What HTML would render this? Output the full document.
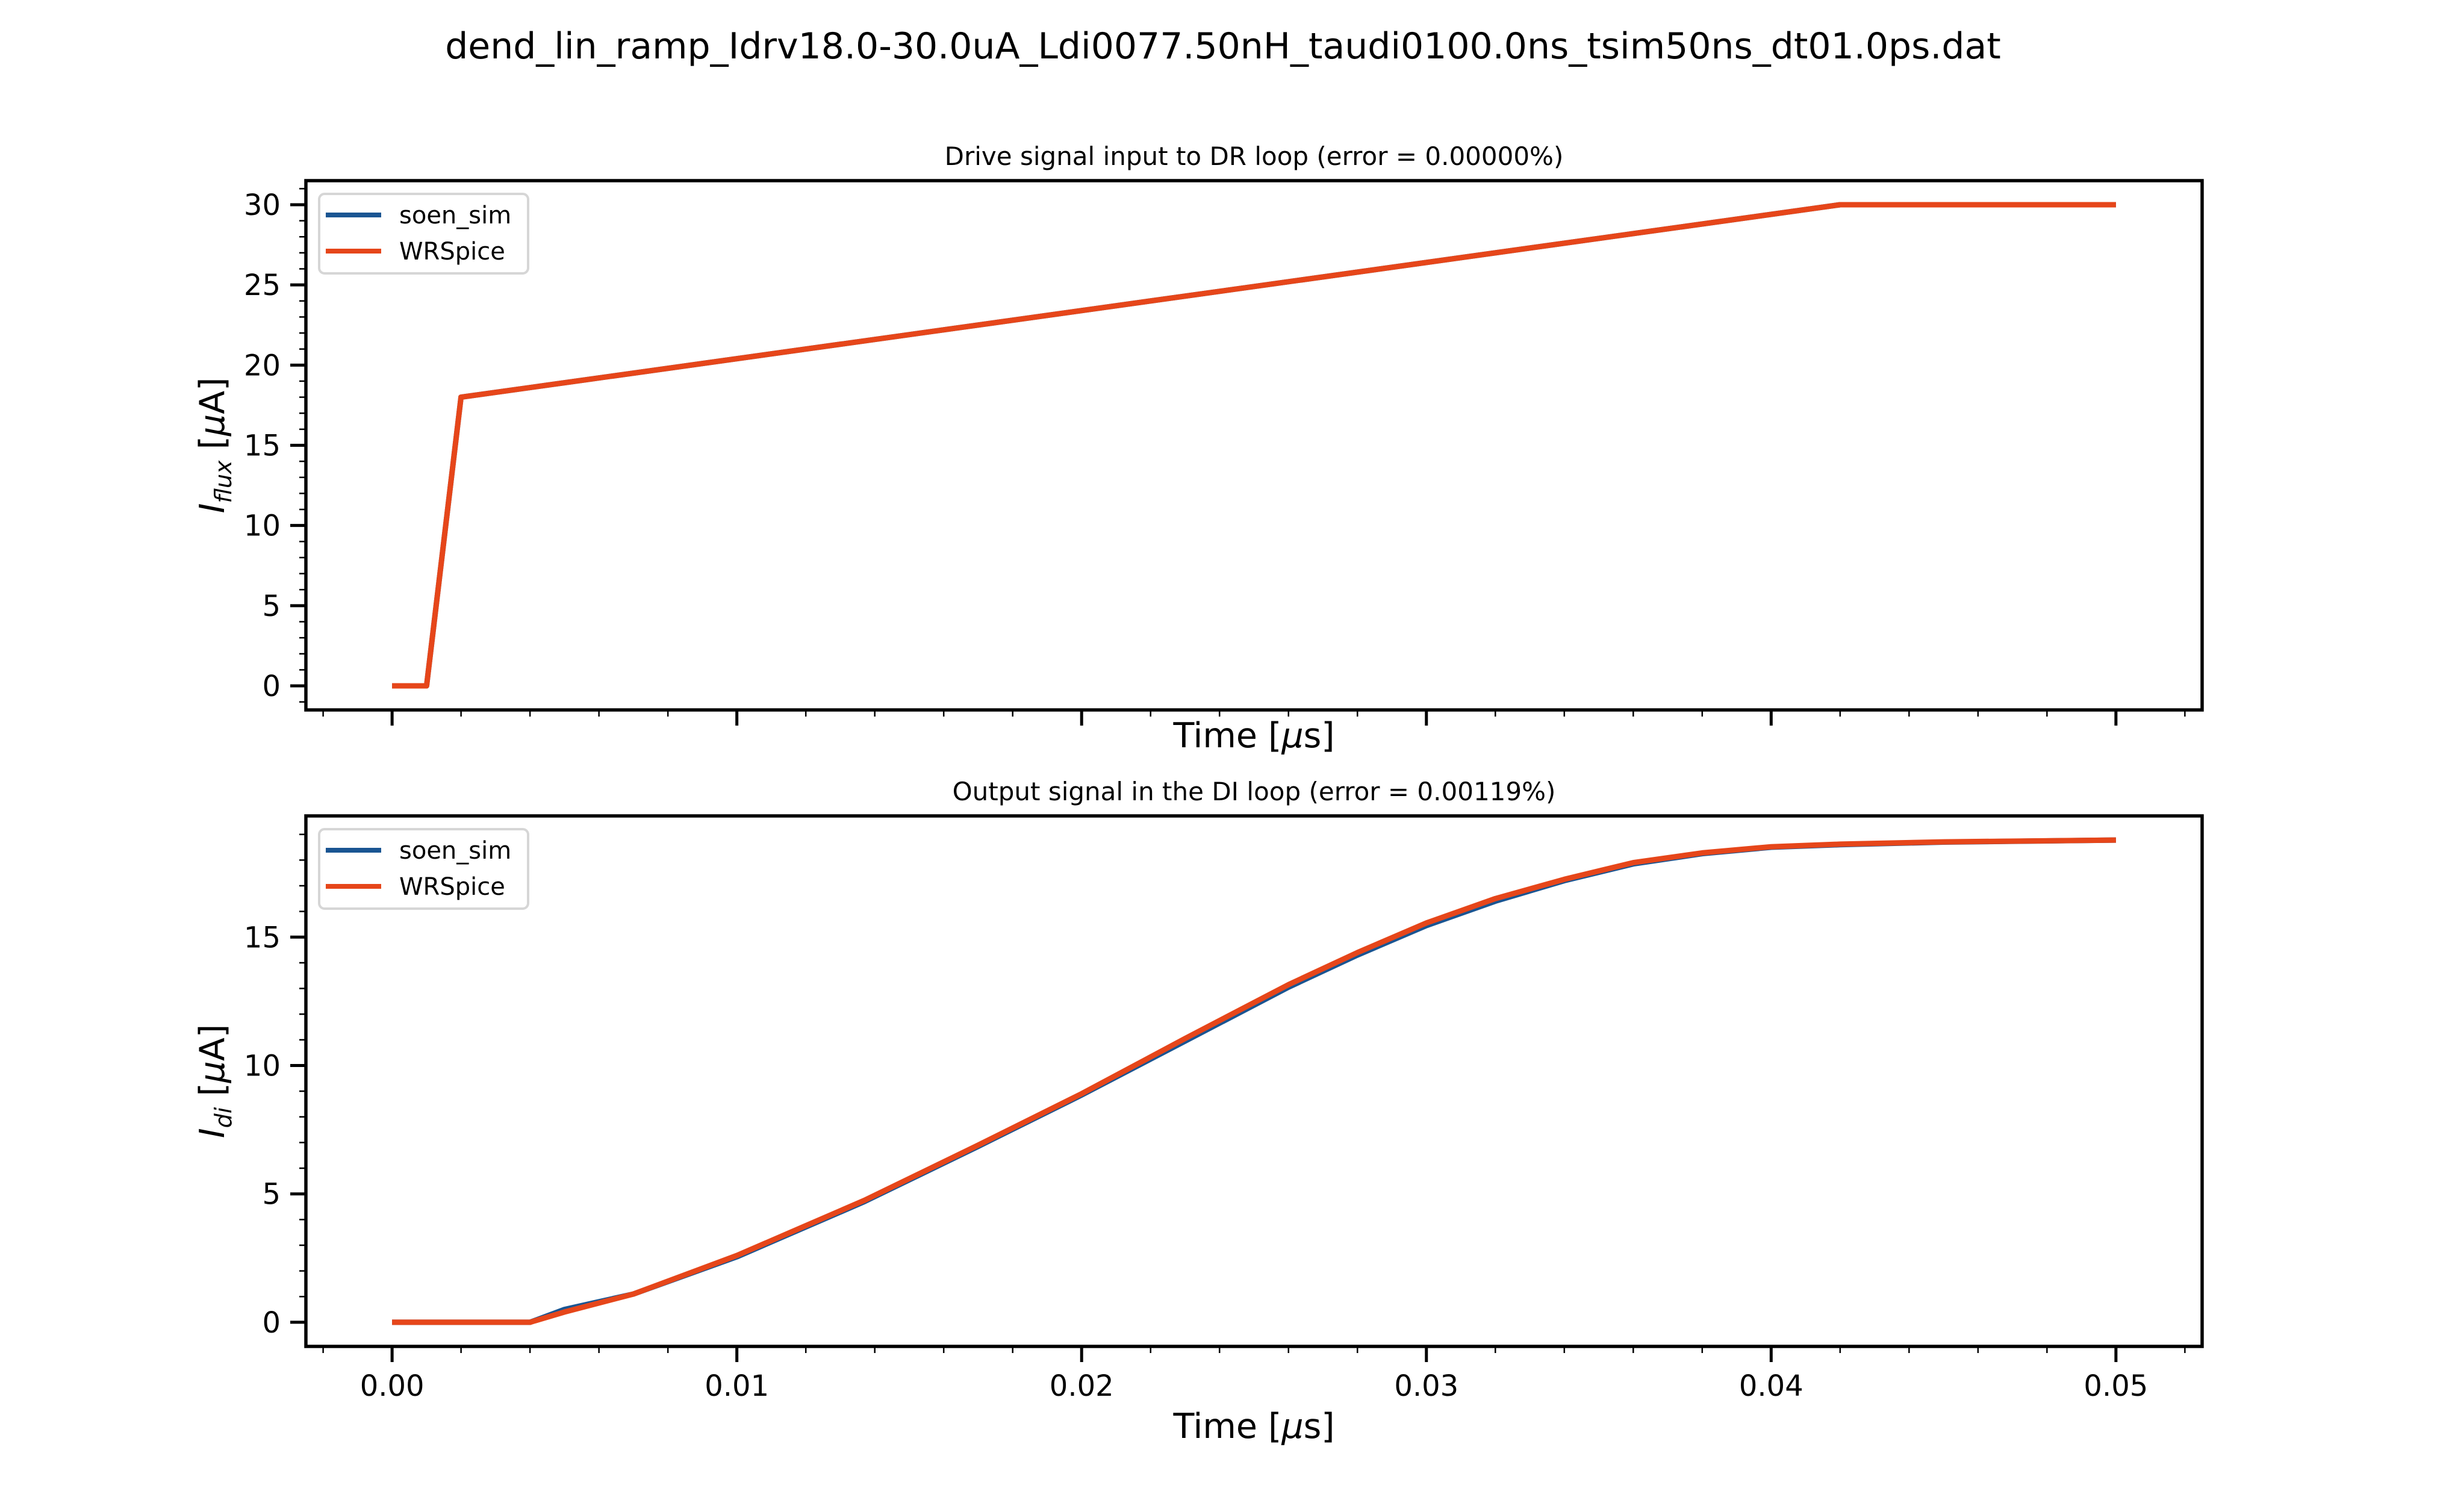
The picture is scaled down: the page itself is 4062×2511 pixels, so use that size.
<!DOCTYPE html>
<html><head><meta charset="utf-8"><style>
html,body{margin:0;padding:0;background:#fff;}
svg{display:block;font-family:"DejaVu Sans","Liberation Sans",sans-serif;}
</style></head><body>
<svg id="fig" xmlns="http://www.w3.org/2000/svg" width="4062" height="2511" viewBox="0 0 4062 2511">
<rect width="4062" height="2511" fill="#fff"/>
<text x="2031" y="97" font-size="60" text-anchor="middle">dend_lin_ramp_Idrv18.0-30.0uA_Ldi0077.50nH_taudi0100.0ns_tsim50ns_dt01.0ps.dat</text>
</svg>
<script>
// top panel data
const driveT = [0, 0.001, 0.002, 0.042, 0.05];
const driveSoen = [0, 0, 18, 30, 30];
const driveWR = [0, 0, 18, 30, 30];
// bottom panel data
const diT = [0, 0.004, 0.005, 0.007, 0.010, 0.0137, 0.017, 0.020, 0.023, 0.026, 0.028, 0.030, 0.032, 0.034, 0.036, 0.038, 0.040, 0.042, 0.045, 0.050];
const diSoen = [0, 0, 0.5, 1.1, 2.55, 4.7, 6.85, 8.85, 10.95, 13.05, 14.3, 15.45, 16.4, 17.2, 17.85, 18.25, 18.5, 18.6, 18.7, 18.78];
const diWR = [0, 0, 0.4, 1.1, 2.6, 4.75, 6.9, 8.9, 11.05, 13.15, 14.4, 15.55, 16.5, 17.25, 17.9, 18.28, 18.52, 18.62, 18.71, 18.78];
const xTicks = [0, 0.01, 0.02, 0.03, 0.04, 0.05];
const xTickLabels = ["0.00", "0.01", "0.02", "0.03", "0.04", "0.05"];
const topYTicks = [0, 5, 10, 15, 20, 25, 30];
const botYTicks = [0, 5, 10, 15];

const NS = "http://www.w3.org/2000/svg";
const svg = document.getElementById('fig');
function mk(tag, attrs, parent){const e=document.createElementNS(NS,tag);for(const k in attrs)e.setAttribute(k,attrs[k]);(parent||svg).appendChild(e);return e;}

function panel(cfg){
  const L=508,R=3657,T=cfg.top,B=cfg.bottom;
  const xs=v=>L+(v-(-0.0025))/(0.055)*(R-L);
  const ys=v=>B-(v-cfg.ymin)/(cfg.ymax-cfg.ymin)*(B-T);
  const g=mk('g',{});
  
  
  const st=mk('text',{x:(L+R)/2,y:T-26,'font-size':42,'text-anchor':'middle'},g);
  st.textContent=cfg.title;
  
  
  for(let i=-1;i<=26;i++){const v=i*0.002;const x=xs(v);if(x<L-1||x>R+1)continue;
    const t=mk('line',{x1:x,x2:x,y1:B,y2:B+11,stroke:'#000','stroke-width':2.5},g);
    
    }
  xTicks.forEach((v,i)=>{const x=xs(v);
    const t=mk('line',{x1:x,x2:x,y1:B,y2:B+26,stroke:'#000','stroke-width':5},g);
    
    
    if(cfg.xlabels){const tx=mk('text',{x:x,y:B+82,'font-size':48,'text-anchor':'middle'},g);tx.textContent=xTickLabels[i];
      
      }
  });
  for(let v=Math.ceil(cfg.ymin);v<=cfg.ymax;v++){const y=ys(v);
    const t=mk('line',{x1:L-11,x2:L,y1:y,y2:y,stroke:'#000','stroke-width':2.5},g);
    
    }
  cfg.yticks.forEach(v=>{const y=ys(v);
    const t=mk('line',{x1:L-26,x2:L,y1:y,y2:y,stroke:'#000','stroke-width':5},g);
    
    
    const tx=mk('text',{x:L-42,y:y+17,'font-size':48,'text-anchor':'end'},g);tx.textContent=v;
    
    
  });
  const xl=mk('text',{x:(L+R)/2,y:B+cfg.xlabelOff,'font-size':57,'text-anchor':'middle'},g);
  xl.innerHTML='Time [<tspan font-style="italic">μ</tspan>s]';
  
  
  const yl=mk('text',{transform:`translate(372,${(T+B)/2}) rotate(-90)`,'font-size':57,'text-anchor':'middle'},g);
  yl.innerHTML='<tspan font-style="italic">I</tspan><tspan font-style="italic" font-size="38" dy="12">'+cfg.sub+'</tspan><tspan dy="-12"> [</tspan><tspan font-style="italic">μ</tspan>A]';
  
  
  const pts=(X,Y)=>X.map((v,i)=>xs(v).toFixed(1)+','+ys(Y[i]).toFixed(1)).join(' ');
  const s1=mk('polyline',{points:pts(cfg.t,cfg.a),fill:'none',stroke:'#1a5592','stroke-width':9,'stroke-linejoin':'round'},g);
  
  
  const s2=mk('polyline',{points:pts(cfg.t,cfg.b),fill:'none',stroke:'#e6461a','stroke-width':9,'stroke-linejoin':'round'},g);
  
  
  const fr=mk('rect',{x:L,y:T,width:R-L,height:B-T,fill:'none',stroke:'#000','stroke-width':5.5},g);
  
  
  const lg=mk('g',{},g);
  
  
  const o=T+22;
  mk('rect',{x:530,y:o,width:347,height:132,rx:9,fill:'#fff',stroke:'#d6d6d6','stroke-width':4},lg);
  [['soen_sim','#1a5592',o+35],['WRSpice','#e6461a',o+95]].forEach(([n,c,y])=>{
    const e=mk('g',{},lg);
    
    
    mk('line',{x1:541,x2:633,y1:y,y2:y,stroke:c,'stroke-width':8},e);
    const t=mk('text',{x:663,y:y+14,'font-size':40},e);t.textContent=n;
  });
}
panel({name:'drive-panel',title:'Drive signal input to DR loop (error = 0.00000%)',top:300,bottom:1179,ymin:-1.5,ymax:31.5,yticks:topYTicks,xlabels:false,xlabelOff:62,sub:'flux',t:driveT,a:driveSoen,b:driveWR});
panel({name:'output-panel',title:'Output signal in the DI loop (error = 0.00119%)',top:1355,bottom:2236,ymin:-0.94,ymax:19.72,yticks:botYTicks,xlabels:true,xlabelOff:152,sub:'di',t:diT,a:diSoen,b:diWR});
</script>
</body></html>
